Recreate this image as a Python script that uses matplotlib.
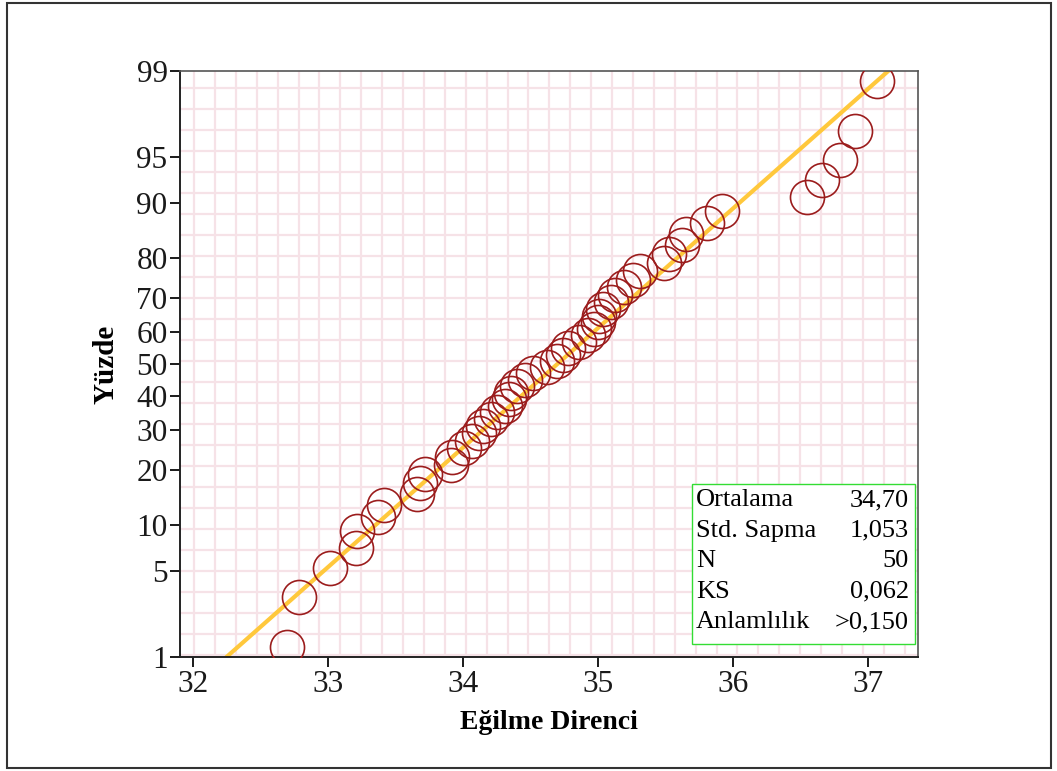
from statistics import NormalDist

import numpy as np
import matplotlib
matplotlib.use("Agg")
import matplotlib.pyplot as plt
from matplotlib.patches import Rectangle

# sorted Eğilme Direnci values
egilme = [32.70, 32.79, 33.02, 33.21, 33.22, 33.37, 33.42, 33.66, 33.68, 33.72,
          33.91, 33.92, 34.01, 34.07, 34.12, 34.15, 34.21, 34.25, 34.31, 34.34,
          34.36, 34.40, 34.46, 34.52, 34.62, 34.70, 34.74, 34.78, 34.86, 34.93,
          34.97, 35.00, 35.01, 35.04, 35.10, 35.13, 35.19, 35.26, 35.31, 35.49,
          35.53, 35.62, 35.65, 35.81, 35.92, 36.55, 36.66, 36.79, 36.90, 37.07]

ortalama = 34.70
std_sapma = 1.053
stat_names = ["Ortalama", "Std. Sapma", "N", "KS", "Anlamlılık"]
stat_values = ["34,70", "1,053", "50", "0,062", ">0,150"]

y_ticks = [1, 5, 10, 20, 30, 40, 50, 60, 70, 80, 90, 95, 99]
x_ticks = [32, 33, 34, 35, 36, 37]

nd = NormalDist()


# probability (normal) scale for the percent axis
def fwd(p):
    p = np.clip(np.asarray(p, dtype=float), 1e-6, 100 - 1e-6)
    return np.vectorize(lambda v: nd.inv_cdf(v / 100.0), otypes=[float])(p)


def inv(z):
    z = np.asarray(z, dtype=float)
    return np.vectorize(lambda v: nd.cdf(v) * 100.0, otypes=[float])(z)


plt.rcParams['font.family'] = ['Liberation Serif', 'DejaVu Serif']

W, H = 1057, 771
fig = plt.figure(figsize=(W / 100, H / 100), dpi=100)
ax = fig.add_axes([180 / W, 1 - 657 / H, (918 - 180) / W, (657 - 71) / H])
ax.set_yscale('function', functions=(fwd, inv))

# graph paper background (evenly spaced in pixels)
ax_w, ax_h = 918 - 180, 657 - 71
for px in np.arange(194, 918, 20.9):
    xf = (px - 180) / ax_w
    ax.plot([xf, xf], [0, 1], color='#f6e2e7', lw=1.6, zorder=0,
            transform=ax.transAxes)
for py in np.arange(88.3, 657, 21.0):
    yf = 1 - (py - 71) / ax_h
    ax.plot([0, 1], [yf, yf], color='#f6e2e7', lw=1.6, zorder=0,
            transform=ax.transAxes)

# fitted normal line
ps = np.linspace(0.2, 99.8, 400)
ax.plot(ortalama + std_sapma * fwd(ps), ps, color='#ffc83c', lw=3.0,
        solid_capstyle='round', zorder=2)

# data points at Blom plotting positions
n = len(egilme)
ranks = np.arange(1, n + 1)
yuzde = (ranks - 0.375) / (n + 0.25) * 100
ax.plot(egilme, yuzde, 'o', ms=24.5, mfc='none', mec='#9b1c1c', mew=1.2, zorder=3)

ax.set_xlim(31.906, 37.37)
ax.set_ylim(1, 99)
ax.set_yticks(y_ticks)
ax.set_yticklabels([str(t) for t in y_ticks])
ax.set_xticks(x_ticks)
ax.set_xticklabels([str(t) for t in x_ticks])
ax.yaxis.set_minor_locator(matplotlib.ticker.NullLocator())
ax.tick_params(direction='out', length=7, width=1.4, labelsize=22.5, pad=2,
               colors='#1a1a1a')

for s in ['left', 'bottom']:
    ax.spines[s].set_color('#222222')
    ax.spines[s].set_linewidth(1.4)
for s in ['top', 'right']:
    ax.spines[s].set_color('#555555')
    ax.spines[s].set_linewidth(1.2)

ax.set_xlabel('Eğilme Direnci', fontsize=20, fontweight='bold', labelpad=8)
ax.set_ylabel('Yüzde', fontsize=21, fontweight='bold', labelpad=12)

# stats box
bx0, by0, bx1, by1 = 692, 484, 915, 644
ax.add_patch(Rectangle(((bx0 - 180) / ax_w, 1 - (by1 - 71) / ax_h),
                       (bx1 - bx0) / ax_w, (by1 - by0) / ax_h,
                       transform=ax.transAxes, facecolor='white',
                       edgecolor='#33dd33', lw=1.0, zorder=4))
for k, (name, val) in enumerate(zip(stat_names, stat_values)):
    yy = 1 - (500 + 30.5 * k - 71) / ax_h
    ax.text((696 - 180) / ax_w, yy, name, transform=ax.transAxes,
            fontsize=19, va='center', ha='left', zorder=5)
    ax.text((909 - 180) / ax_w, yy, val, transform=ax.transAxes,
            fontsize=19, va='center', ha='right', zorder=5)

# outer frame
fig.patches.append(Rectangle((7 / W, 3 / H), 1044 / W, 765 / H,
                             transform=fig.transFigure, fill=False,
                             edgecolor='#333333', lw=1.5))

fig.savefig('out.png', dpi=100)
